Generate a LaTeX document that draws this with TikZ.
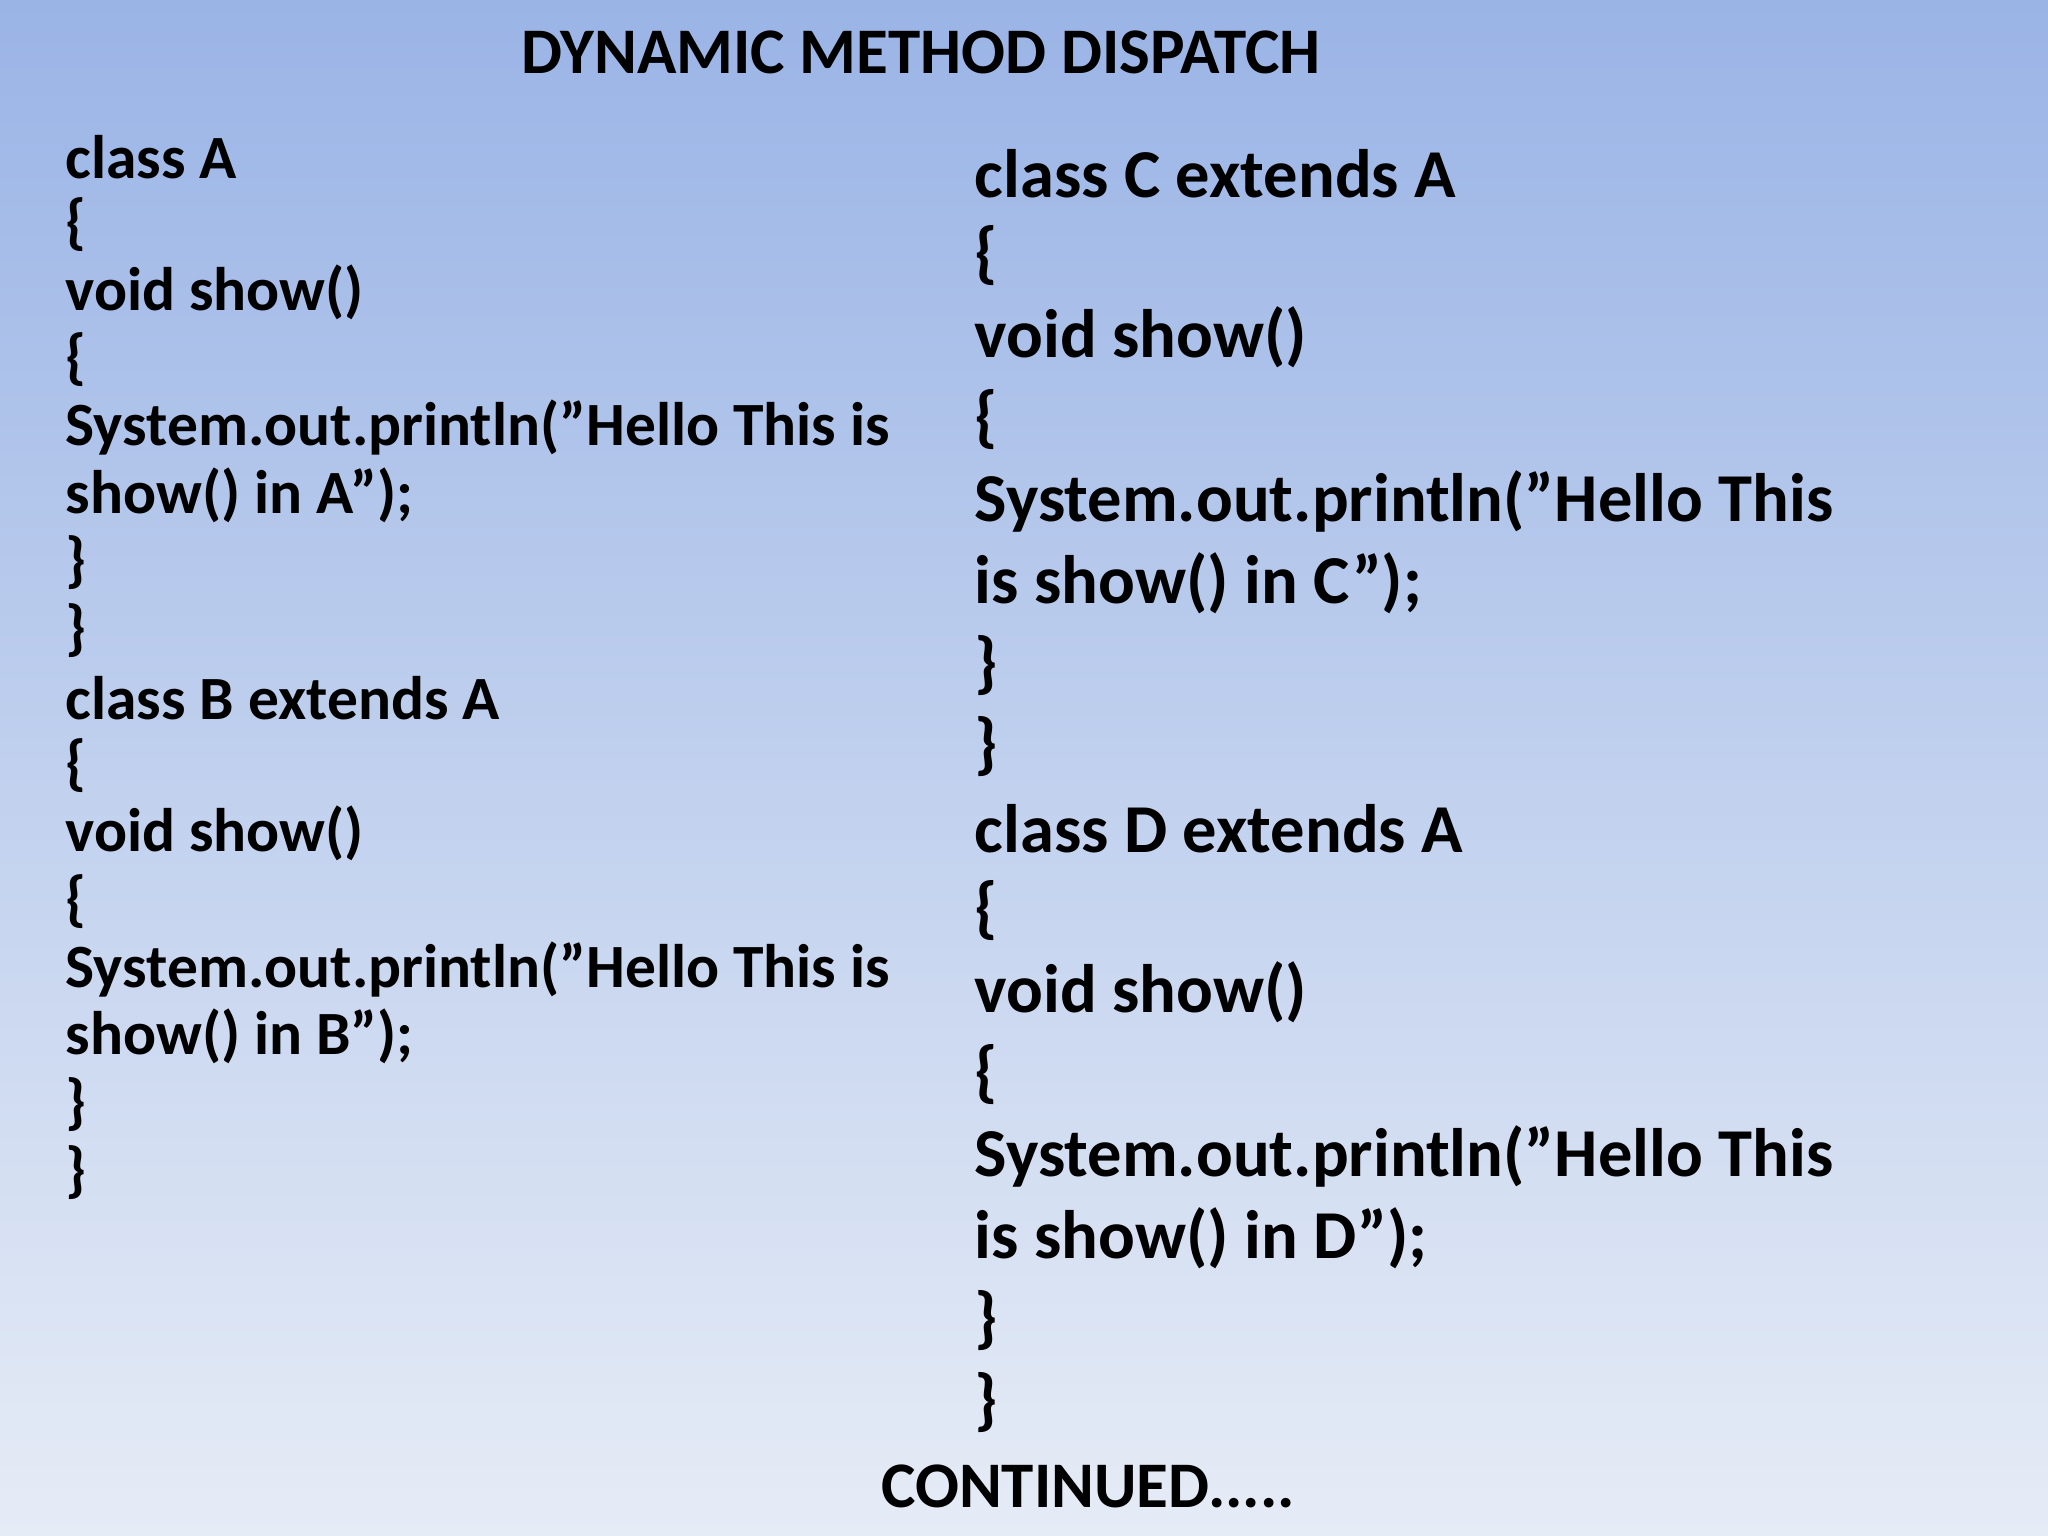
\documentclass[tikz,border=0pt]{standalone}
\usepackage{fontspec}
\setmainfont{Carlito}
\definecolor{bgtop}{HTML}{9AB4E6}
\definecolor{bgbot}{HTML}{E6ECF6}
\begin{document}
\begin{tikzpicture}[x=1cm,y=1cm,
  lcode/.style={anchor=west,inner sep=0pt,font=\fontsize{17.5}{20}\selectfont\bfseries},
  rcode/.style={anchor=west,inner sep=0pt,font=\fontsize{19.5}{22}\selectfont\bfseries}]
\shade[top color=bgtop,bottom color=bgbot] (0,0) rectangle (20.48,15.36);
\useasboundingbox (0,0) rectangle (20.48,15.36);
\node[inner sep=0pt,font=\fontsize{18.5}{22}\selectfont\bfseries] (title) at (9.21,14.84) {DYNAMIC METHOD DISPATCH};
\foreach \t [count=\i from 0] in {class A,\{,void show(),\{,System.out.println("Hello This is,show() in A");,\},\},class B extends A,\{,void show(),\{,System.out.println("Hello This is,show() in B");,\},\}}
  \node[lcode] (l\i) at (0.65,{(1536-156.7-67.7*\i)/100}) {\t};
\foreach \t [count=\i from 0] in {class C extends A,\{,void show(),\{,System.out.println("Hello This,is show() in C");,\},\},class D extends A,\{,void show(),\{,System.out.println("Hello This,is show() in D");,\},\}}
  \node[rcode] (r\i) at (9.74,{(1536-173.7-81.9*\i)/100}) {\t};
\node[inner sep=0pt,font=\fontsize{18.5}{22}\selectfont\bfseries] (cont) at (10.88,0.50) {CONTINUED.....};
\end{tikzpicture}
\end{document}
